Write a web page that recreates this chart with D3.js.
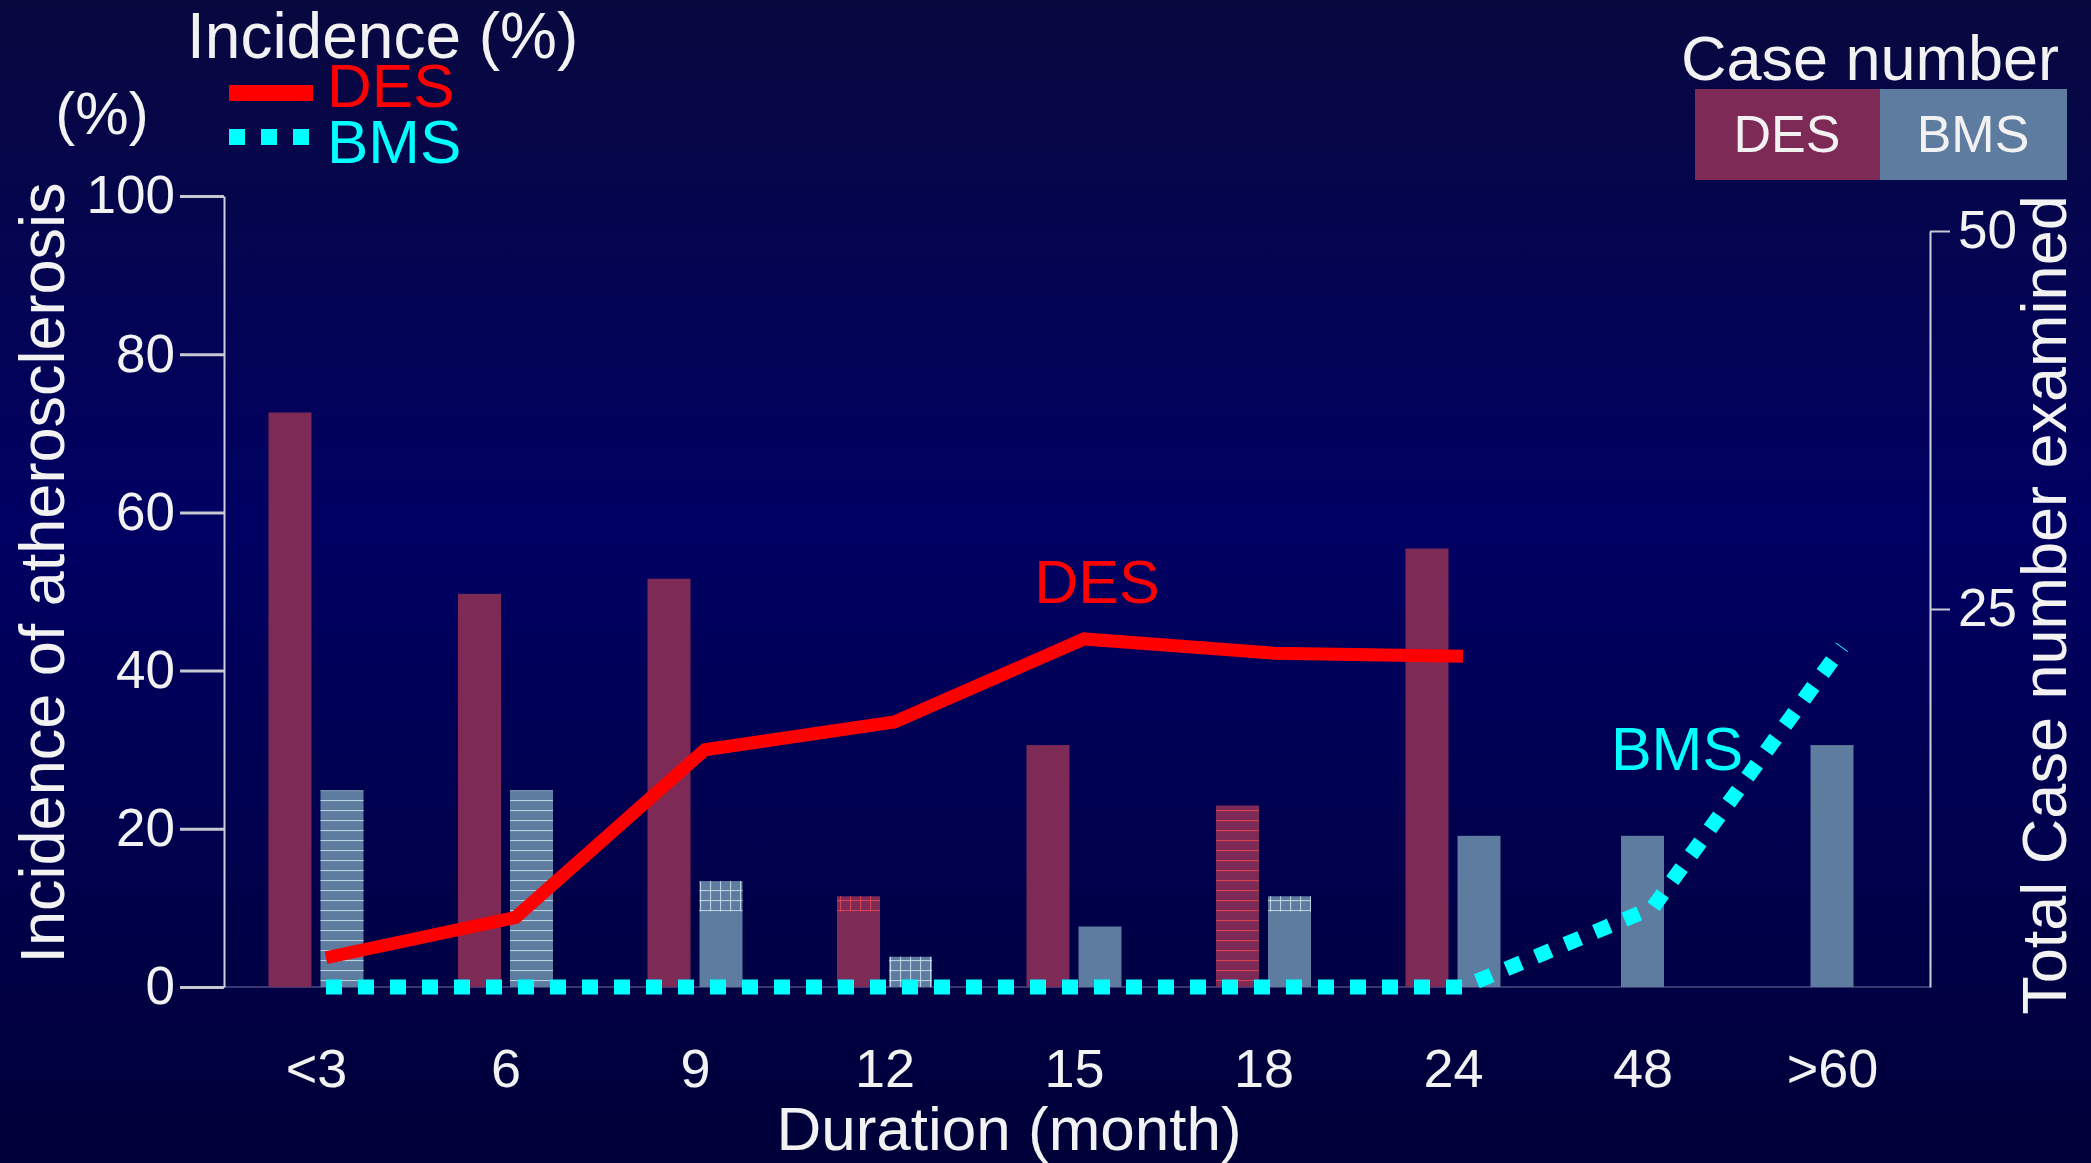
<!DOCTYPE html>
<html>
<head>
<meta charset="utf-8">
<script src="https://cdn.jsdelivr.net/npm/d3@7"></script>
<style>
	html, body { margin: 0; padding: 0; background: #000050; overflow: hidden; }
	svg { display: block; font-family: "Liberation Sans", Arial, sans-serif; }
</style>
</head>
<body>
<div id="chart"></div>
<script>
/**
 * Chart data
 */
var categories = ["<3", "6", "9", "12", "15", "18", "24", "48", ">60"];
var desCases = [38, 26, 27, 6, 16, 12, 29, null, null];	// right axis
var bmsCases = [13, 13, 7, 2, 4, 6, 10, 10, 16];
var desIncidence = [3.7, 8.8, 30, 33.5, 44, 42.2, 41.8, null, null];	// left axis, %
var bmsIncidence = [0, 0, 0, 0, 0, 0, 0, 10, 43];
var leftTicks = [0, 20, 40, 60, 80, 100];
var rightTicks = [25, 50];

// hatched parts of some bars (in cases)
var hatchSegments = [
	{cat: "<3", series: "BMS", from: 0, to: 13, kind: "lines"},
	{cat: "6", series: "BMS", from: 0, to: 13, kind: "lines"},
	{cat: "9", series: "BMS", from: 5, to: 7, kind: "grid"},
	{cat: "12", series: "DES", from: 5, to: 6, kind: "grid"},
	{cat: "12", series: "BMS", from: 0, to: 2, kind: "grid"},
	{cat: "18", series: "DES", from: 0, to: 12, kind: "lines"},
	{cat: "18", series: "BMS", from: 5, to: 6, kind: "grid"}
];

/**
 * Global variables defined here
 */
var _width = 2091, _height = 1163;
var _x, _yLeft, _yRight;
var barW = 43, barGap = 9;
var colDES = "#7e2a56", colBMS = "#5d7c9f";
var white = "#f2f2f2";

var svg = d3.select("#chart").append("svg")
						.attr("width", _width)
						.attr("height", _height);

_x = d3.scalePoint().domain(categories).range([316, 1832]);
_yLeft = d3.scaleLinear().domain([0, 100]).range([987, 196]);
_yRight = d3.scaleLinear().domain([0, 50]).range([987, 231]);

/**
 * background gradient + hatch patterns
 */
var defs = svg.append("defs");
var grad = defs.append("linearGradient").attr("id", "bg")
						.attr("x1", 0).attr("y1", 0).attr("x2", 0).attr("y2", 1);
grad.append("stop").attr("offset", "0%").attr("stop-color", "#08083f");
grad.append("stop").attr("offset", "45%").attr("stop-color", "#000063");
grad.append("stop").attr("offset", "100%").attr("stop-color", "#000038");

function makePattern(id, color, grid) {
	var p = defs.append("pattern").attr("id", id)
						.attr("patternUnits", "userSpaceOnUse")
						.attr("width", 10).attr("height", 10);
	p.append("line").attr("x1", 0).attr("x2", 10).attr("y1", 0.5).attr("y2", 0.5)
		.attr("stroke", color).attr("stroke-width", 1.2);
	if (grid) {
		p.append("line").attr("x1", 0.5).attr("x2", 0.5).attr("y1", 0).attr("y2", 10)
			.attr("stroke", color).attr("stroke-width", 1.2);
	}
}
makePattern("lines-BMS", "rgba(215,235,245,0.75)", false);
makePattern("grid-BMS", "rgba(215,235,245,0.75)", true);
makePattern("lines-DES", "rgba(235,70,80,0.8)", false);
makePattern("grid-DES", "rgba(235,70,80,0.8)", true);

svg.append("rect").attr("width", _width).attr("height", _height).attr("fill", "url(#bg)");

/**
 * x position of a bar; BMS is centred when DES is missing
 */
function barX(i, series) {
	var c = _x(categories[i]);
	if (series == "DES") return c - barGap / 2 - barW;
	if (desCases[i] == null) return c - barW / 2;
	return c + barGap / 2;
}

var barData = [];
categories.forEach(function(cat, i) {
	if (desCases[i] != null) barData.push({i: i, series: "DES", v: desCases[i]});
	if (bmsCases[i] != null) barData.push({i: i, series: "BMS", v: bmsCases[i]});
});

// baseline
svg.append("line")
	.attr("x1", 224).attr("x2", 1930)
	.attr("y1", _yLeft(0)).attr("y2", _yLeft(0))
	.attr("stroke", "#4a4a80").attr("stroke-width", 1.5);

svg.append("g").selectAll("rect")
	.data(barData)
	.join("rect")
	.attr("x", function(d) { return barX(d.i, d.series); })
	.attr("y", function(d) { return _yRight(d.v); })
	.attr("width", barW)
	.attr("height", function(d) { return _yRight(0) - _yRight(d.v); })
	.attr("fill", function(d) { return d.series == "DES" ? colDES : colBMS; });

svg.append("g").selectAll("rect")
	.data(hatchSegments)
	.join("rect")
	.attr("x", function(d) { return barX(categories.indexOf(d.cat), d.series); })
	.attr("y", function(d) { return _yRight(d.to); })
	.attr("width", barW)
	.attr("height", function(d) { return _yRight(d.from) - _yRight(d.to); })
	.attr("fill", function(d) { return "url(#" + d.kind + "-" + d.series + ")"; });

/**
 * Axes
 */
var leftAxis = svg.append("g")
	.attr("transform", "translate(224,0)")
	.call(d3.axisLeft(_yLeft).tickValues(leftTicks).tickSize(44).tickSizeOuter(0).tickPadding(5));
var rightAxis = svg.append("g")
	.attr("transform", "translate(1930,0)")
	.call(d3.axisRight(_yRight).tickValues(rightTicks).tickSize(20).tickSizeOuter(0).tickPadding(8));
[leftAxis, rightAxis].forEach(function(a) {
	a.select(".domain").attr("stroke", "#d0d0da").attr("stroke-width", 2);
	a.selectAll(".tick line").attr("stroke", "#c8c8d2").attr("stroke-width", 3);
	a.selectAll(".tick text").attr("fill", white)
		.attr("font-size", 53).attr("font-family", "Liberation Sans, Arial, sans-serif");
});
rightAxis.selectAll(".tick line").attr("stroke-width", 2);

var xAxis = svg.append("g")
	.attr("transform", "translate(0,1087)")
	.call(d3.axisBottom(_x).tickSize(0).tickPadding(0));
xAxis.select(".domain").remove();
xAxis.selectAll(".tick text")
	.attr("y", 0).attr("dy", 0)
	.attr("fill", white)
	.attr("font-size", 54).attr("font-family", "Liberation Sans, Arial, sans-serif");

/**
 * Lines
 */
var lineShift = 10;
function incidenceLine() {
	return d3.line()
						.defined(function(d) { return d.v != null; })
						.x(function(d) { return _x(d.cat) + lineShift; })
						.y(function(d) { return _yLeft(d.v); });
}
var desPts = categories.map(function(c, i) { return {cat: c, v: desIncidence[i]}; });
var bmsPts = categories.map(function(c, i) { return {cat: c, v: bmsIncidence[i]}; });

svg.append("path").datum(desPts)
	.attr("d", incidenceLine())
	.attr("fill", "none").attr("stroke", "#ff0000")
	.attr("stroke-width", 13).attr("stroke-linejoin", "miter");
svg.append("path").datum(bmsPts)
	.attr("d", incidenceLine())
	.attr("fill", "none").attr("stroke", "#00ffff")
	.attr("stroke-width", 15).attr("stroke-dasharray", "16,16");

/**
 * Texts
 */
function addText(str, x, y, size, color, anchor, rotate) {
	var t = svg.append("text")
						.attr("x", x).attr("y", y)
						.attr("font-size", size)
						.attr("fill", color)
						.attr("text-anchor", anchor || "start")
						.text(str);
	if (rotate) t.attr("transform", "rotate(" + rotate + "," + x + "," + y + ")");
	return t;
}

addText("Incidence (%)", 187, 58, 64, white);
addText("(%)", 102, 134, 60, white, "middle");
addText("Incidence of atherosclerosis", 64, 573, 63, white, "middle", -90);
addText("Total Case number examined", 2066, 605, 63, white, "middle", -90);
addText("Duration (month)", 1009, 1150, 62, white, "middle");

// legend: incidence lines
svg.append("line").attr("x1", 229).attr("x2", 313).attr("y1", 93).attr("y2", 93)
	.attr("stroke", "#ff0000").attr("stroke-width", 16);
svg.append("line").attr("x1", 229).attr("x2", 310).attr("y1", 137).attr("y2", 137)
	.attr("stroke", "#00ffff").attr("stroke-width", 16).attr("stroke-dasharray", "16,16");
addText("DES", 327, 107, 62, "#ff0000");
addText("BMS", 327, 163, 62, "#00ffff");

// legend: case number boxes
addText("Case number", 1870, 80, 63, white, "middle");
svg.append("rect").attr("x", 1695).attr("y", 89).attr("width", 185).attr("height", 91).attr("fill", colDES);
svg.append("rect").attr("x", 1880).attr("y", 89).attr("width", 187).attr("height", 91).attr("fill", colBMS);
addText("DES", 1787, 152, 52, white, "middle");
addText("BMS", 1973, 152, 52, white, "middle");

// inline labels
addText("DES", 1097, 603, 61, "#ff0000", "middle");
addText("BMS", 1677, 770, 61, "#00ffff", "middle");
</script>
</body>
</html>
